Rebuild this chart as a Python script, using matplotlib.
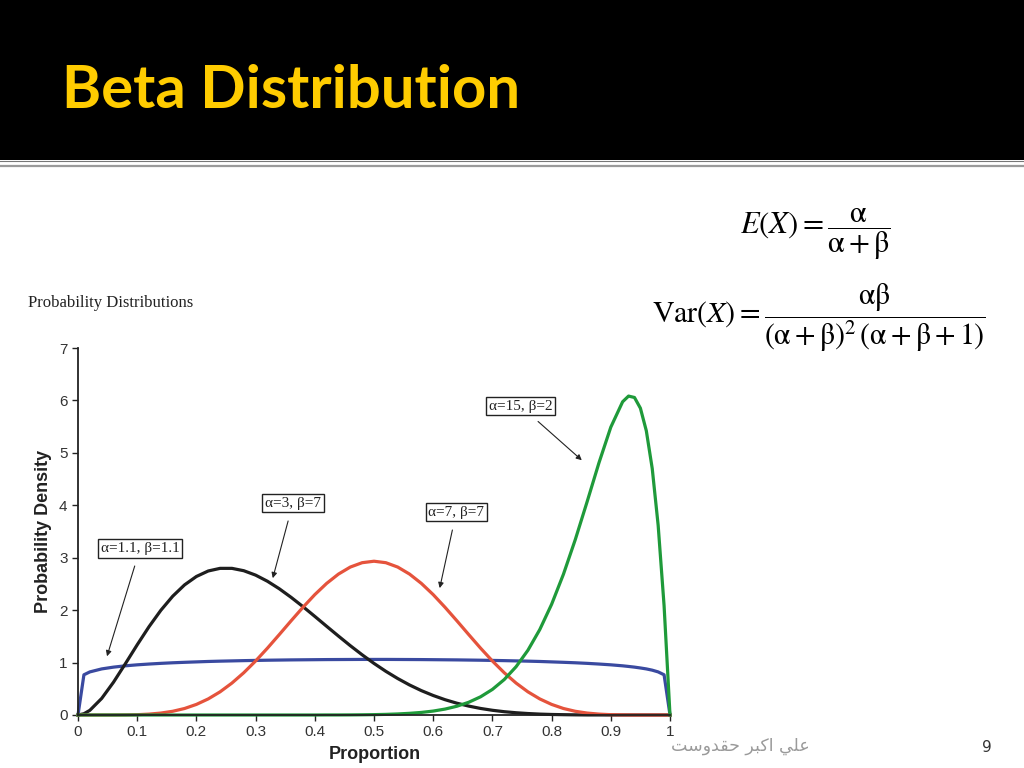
import matplotlib
matplotlib.use('Agg')
import matplotlib.pyplot as plt
from matplotlib.patches import Rectangle
from matplotlib.lines import Line2D

plt.rcParams['mathtext.fontset'] = 'stix'

# proportion grid
x = [0.00, 0.01, 0.02, 0.04, 0.06, 0.08, 0.10, 0.12, 0.14, 0.16, 0.18,
     0.20, 0.22, 0.24, 0.26, 0.28, 0.30, 0.32, 0.34, 0.36, 0.38,
     0.40, 0.42, 0.44, 0.46, 0.48, 0.50, 0.52, 0.54, 0.56, 0.58,
     0.60, 0.62, 0.64, 0.66, 0.68, 0.70, 0.72, 0.74, 0.76, 0.78,
     0.80, 0.82, 0.84, 0.86, 0.88, 0.90, 0.92, 0.93, 0.94, 0.95,
     0.96, 0.97, 0.98, 0.99, 1.00]

# a=1.1, b=1.1 (blue)
dens_11_11 = [0.000, 0.767, 0.822, 0.879, 0.913, 0.938, 0.957, 0.972, 0.985, 0.996, 1.005,
              1.013, 1.021, 1.027, 1.032, 1.037, 1.041, 1.045, 1.048, 1.051, 1.053,
              1.055, 1.057, 1.058, 1.059, 1.060, 1.060, 1.060, 1.059, 1.058, 1.057,
              1.055, 1.053, 1.051, 1.048, 1.045, 1.041, 1.037, 1.032, 1.027, 1.021,
              1.013, 1.005, 0.996, 0.985, 0.972, 0.957, 0.938, 0.926, 0.913, 0.897,
              0.879, 0.855, 0.822, 0.767, 0.000]

# a=3, b=7 (black)
dens_3_7 = [0.000, 0.024, 0.089, 0.316, 0.626, 0.978, 1.339, 1.685, 1.998, 2.266, 2.482,
            2.642, 2.747, 2.797, 2.797, 2.752, 2.668, 2.551, 2.408, 2.244, 2.067,
            1.881, 1.692, 1.505, 1.322, 1.148, 0.984, 0.833, 0.696, 0.573, 0.465,
            0.372, 0.292, 0.225, 0.170, 0.125, 0.090, 0.063, 0.043, 0.028, 0.017,
            0.010, 0.006, 0.003, 0.001, 0.001, 0.000, 0.000, 0.000, 0.000, 0.000,
            0.000, 0.000, 0.000, 0.000, 0.000]

# a=7, b=7 (red)
dens_7_7 = [0.000, 0.000, 0.000, 0.000, 0.000, 0.002, 0.006, 0.017, 0.037, 0.071, 0.124,
            0.202, 0.307, 0.442, 0.609, 0.806, 1.030, 1.275, 1.534, 1.797, 2.054,
            2.296, 2.510, 2.688, 2.822, 2.905, 2.933, 2.905, 2.822, 2.688, 2.510,
            2.296, 2.054, 1.797, 1.534, 1.275, 1.030, 0.806, 0.609, 0.442, 0.307,
            0.202, 0.124, 0.071, 0.037, 0.017, 0.006, 0.002, 0.001, 0.000, 0.000,
            0.000, 0.000, 0.000, 0.000, 0.000]

# a=15, b=2 (green)
dens_15_2 = [0.000, 0.000, 0.000, 0.000, 0.000, 0.000, 0.000, 0.000, 0.000, 0.000, 0.000,
             0.000, 0.000, 0.000, 0.000, 0.000, 0.000, 0.000, 0.000, 0.000, 0.000,
             0.000, 0.001, 0.001, 0.002, 0.004, 0.007, 0.012, 0.020, 0.032, 0.049,
             0.075, 0.113, 0.167, 0.243, 0.347, 0.488, 0.676, 0.921, 1.235, 1.629,
             2.111, 2.685, 3.345, 4.068, 4.810, 5.490, 5.975, 6.083, 6.056, 5.852,
             5.421, 4.700, 3.617, 2.085, 0.000]

series = [(dens_11_11, '#3a4aa0'), (dens_3_7, '#1e1e1e'),
          (dens_7_7, '#e5533c'), (dens_15_2, '#1f9a3a')]

labels = ['\u03b1=1.1, \u03b2=1.1', '\u03b1=3, \u03b2=7', '\u03b1=7, \u03b2=7', '\u03b1=15, \u03b2=2']
label_pos = [(0.105, 3.18), (0.363, 4.04), (0.639, 3.87), (0.748, 5.89)]
arrow_tips = [(0.049, 1.12), (0.329, 2.61), (0.611, 2.42), (0.851, 4.86)]

xticks = [0, 0.1, 0.2, 0.3, 0.4, 0.5, 0.6, 0.7, 0.8, 0.9, 1]
xtick_labels = ['0', '0.1', '0.2', '0.3', '0.4', '0.5', '0.6', '0.7', '0.8', '0.9', '1']
yticks = [0, 1, 2, 3, 4, 5, 6, 7]

W, H = 1024, 768
fig = plt.figure(figsize=(W / 100, H / 100), dpi=100)
fig.patch.set_facecolor('white')


def fx(px):
    return px / W


def fy(py):
    return 1 - py / H


# slide header
fig.patches.append(Rectangle((0, fy(160)), 1, 1 - fy(160), transform=fig.transFigure,
                             facecolor='black', edgecolor='none', zorder=0))
fig.lines.append(Line2D([0, 1], [fy(161), fy(161)], transform=fig.transFigure,
                        color='#777777', lw=0.8))
fig.lines.append(Line2D([0, 1], [fy(166), fy(166)], transform=fig.transFigure,
                        color='#9a9a9a', lw=1.6))
fig.text(fx(62), fy(108), 'Beta Distribution', color='#ffcc00', fontsize=43,
         fontweight='bold', family='Lato', va='baseline', ha='left')

# formulas
a = r'\mathrm{\alpha}'
b = r'\mathrm{\beta}'
fig.text(fx(740), fy(234), r'$E(X)=\dfrac{%s}{%s+%s}$' % (a, a, b), fontsize=22,
         ha='left', va='center')
fig.text(fx(652), fy(318),
         r'$\mathrm{Var}(X)=\dfrac{%s%s}{(%s+%s)^2\,(%s+%s+1)}$' % (a, b, a, b, a, b),
         fontsize=21.5, ha='left', va='center')

fig.text(fx(28), fy(307), 'Probability Distributions', fontsize=12,
         family='Liberation Serif', color='#222222', va='baseline')

# chart
ax = fig.add_axes([fx(78), fy(715), fx(670) - fx(78), fy(348) - fy(715)])
for dens, col in series:
    ax.plot(x, dens, color=col, lw=2.3, solid_joinstyle='round', clip_on=False)

ax.set_xlim(0, 1)
ax.set_ylim(0, 7)
ax.set_xticks(xticks)
ax.set_xticklabels(xtick_labels)
ax.set_yticks(yticks)
for s in ['top', 'right']:
    ax.spines[s].set_visible(False)
for s in ['left', 'bottom']:
    ax.spines[s].set_linewidth(1.3)
    ax.spines[s].set_color('#222222')
ax.tick_params(direction='out', length=4, width=1, color='#222222',
               labelsize=11, labelcolor='#333333')
for t in ax.get_xticklabels() + ax.get_yticklabels():
    t.set_family('Liberation Sans')

ax.set_xlabel('Proportion', fontsize=13, fontweight='bold', family='Liberation Sans', color='#222222')
ax.set_ylabel('Probability Density', fontsize=13, fontweight='bold', family='Liberation Sans', color='#222222')
ax.xaxis.set_label_coords(0.502, -0.085)
ax.yaxis.set_label_coords(-0.044, 0.5)

for lab, pos, tip in zip(labels, label_pos, arrow_tips):
    ax.annotate(lab, xy=tip, xytext=pos, ha='center', va='center',
                fontsize=11, family='Liberation Serif', color='#222222',
                bbox=dict(boxstyle='square,pad=0.18', fc='white', ec='#222222', lw=1),
                arrowprops=dict(arrowstyle='-|>', color='#222222', lw=0.8,
                                mutation_scale=8, shrinkA=6, shrinkB=0))

# footer
arabic = '\ufe96\ufeb3\ufeed\ufeaa\ufed8\ufea3 \ufeae\ufe92\ufedb\ufe8d \ufef2\ufee0\ufecb'
fig.text(fx(810), fy(746), arabic, fontsize=12.5, family='DejaVu Sans',
         color='#9a9a9a', ha='right', va='center')
fig.text(fx(987), fy(748), '9', fontsize=11, family='DejaVu Sans', color='#333333',
         ha='center', va='center')

fig.savefig('out.png', dpi=100)
